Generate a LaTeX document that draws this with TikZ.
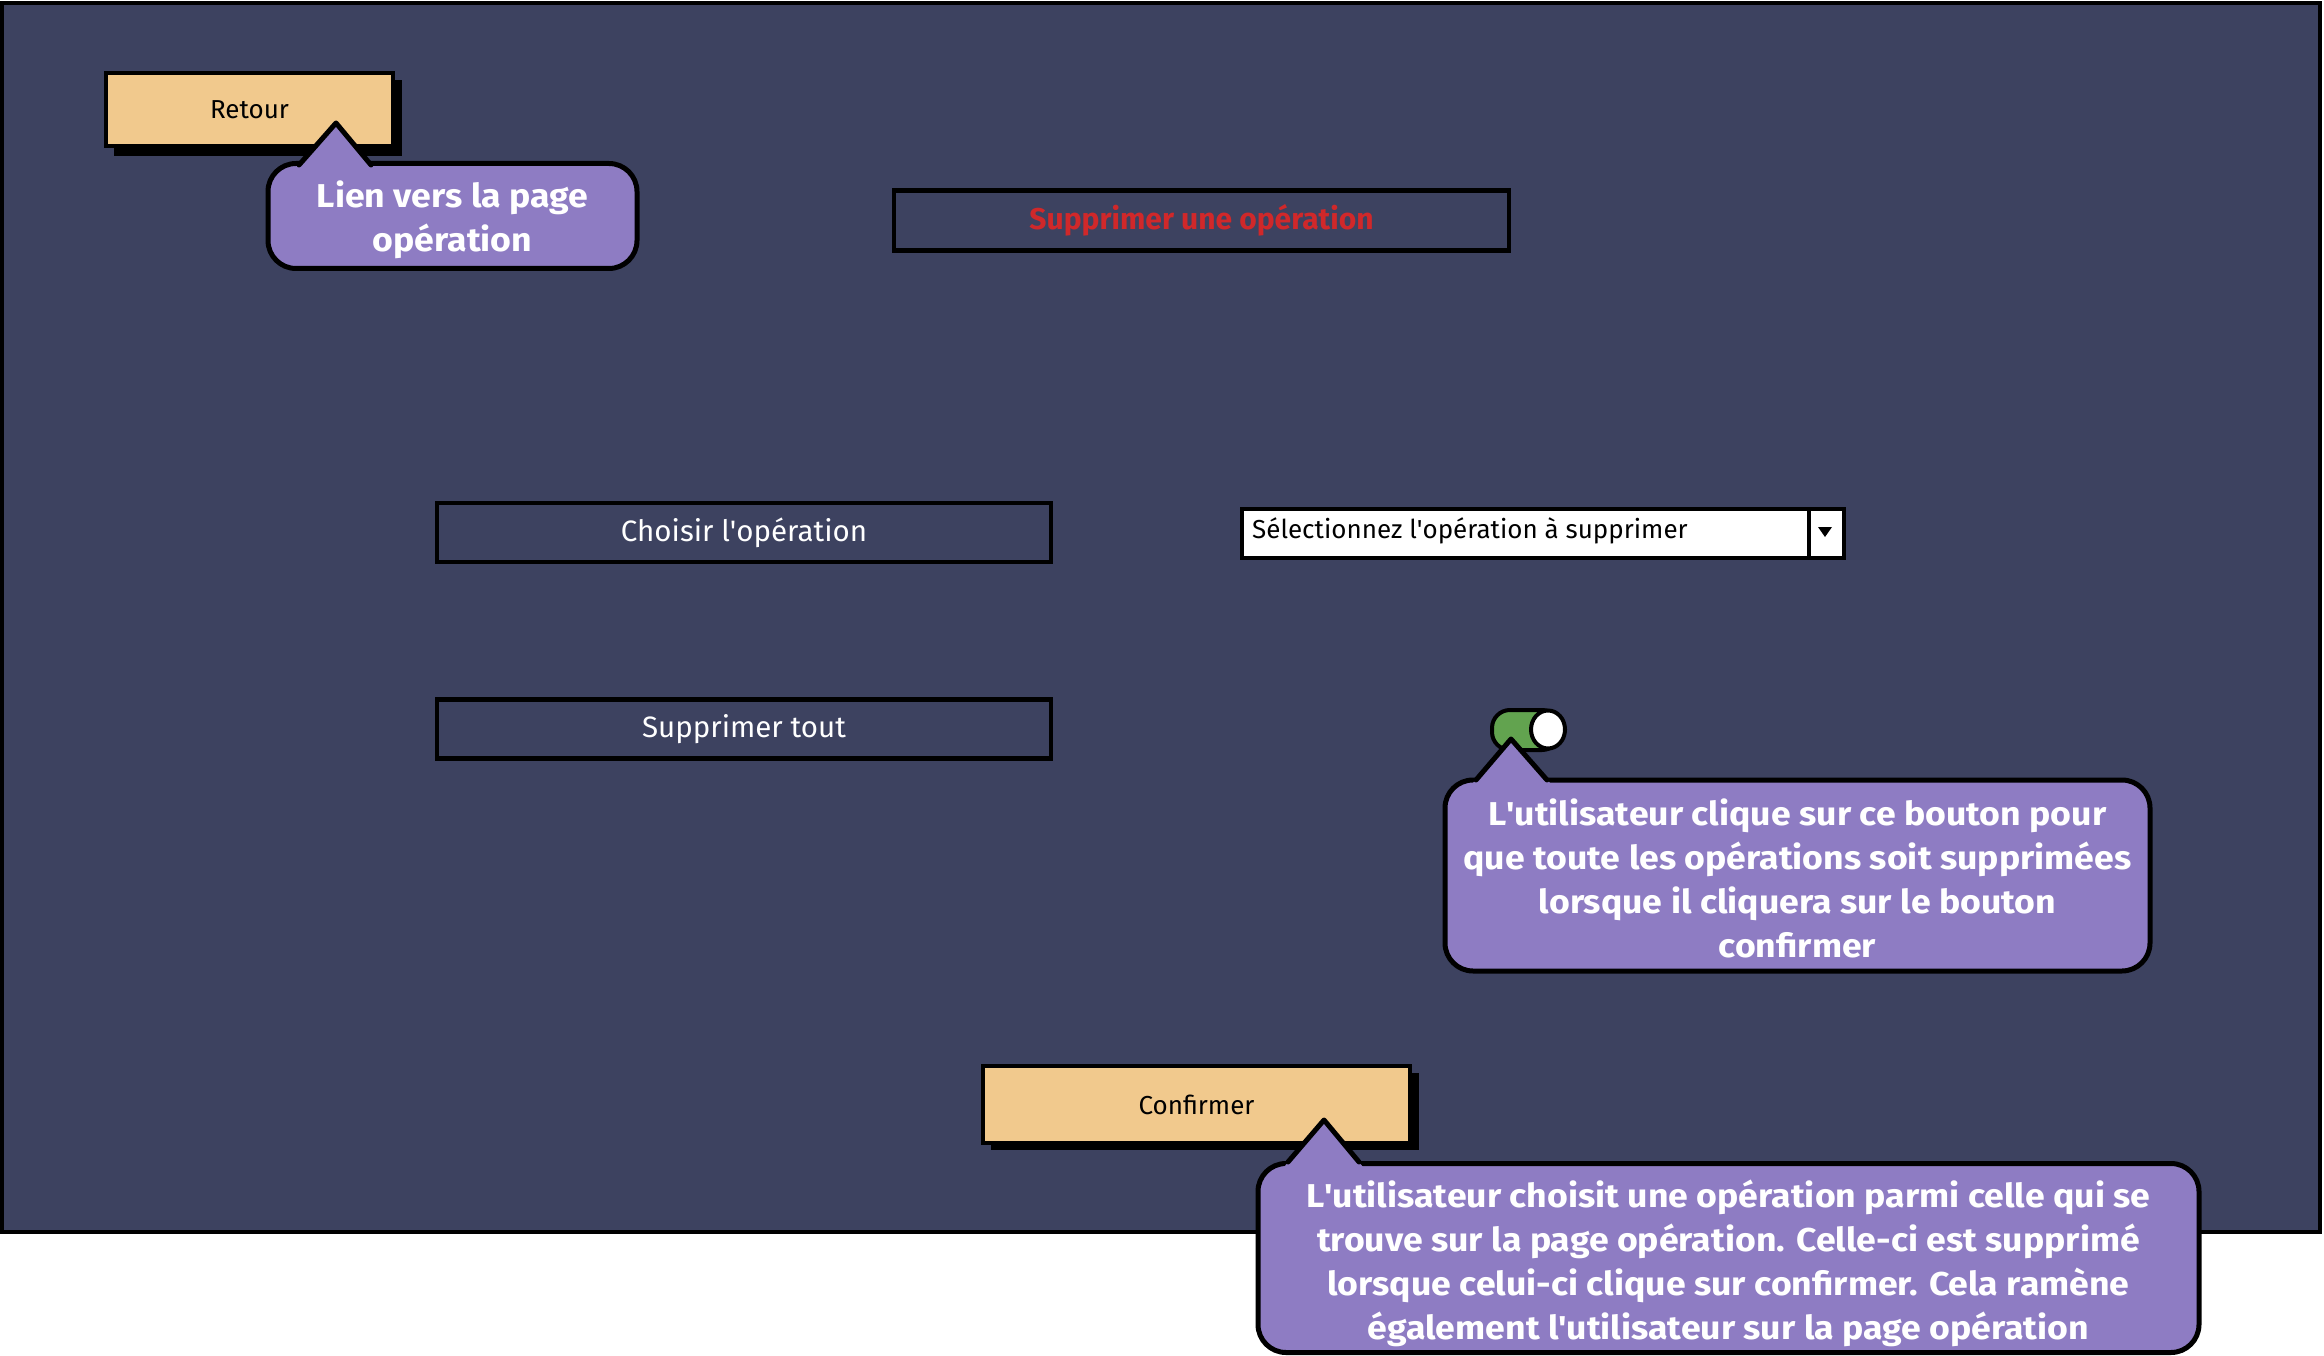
\documentclass[tikz,border=0pt]{standalone}
\usepackage{fontspec}
\setmainfont{Fira Sans}
\newfontfamily\callfont{Fira Sans}[FakeStretch=1.08]
\definecolor{bgc}{HTML}{3D4260}
\definecolor{callc}{HTML}{8E7CC3}
\definecolor{btnc}{HTML}{F1C98D}
\definecolor{tgreen}{HTML}{62A34F}
\definecolor{titlered}{HTML}{D0282A}
\newcommand{\apos}{\textquotesingle}
\tikzset{
  btnbox/.style={draw=black, fill=btnc, line width=4pt, inner sep=0pt, text=black, font=\fontsize{26}{30}\selectfont},
  outbox/.style={draw=black, line width=4.5pt, inner sep=0pt, text=white, font=\fontsize{29.5}{34}\selectfont},
  callbox/.style={draw=black, fill=callc, line width=5pt, rounded corners=28pt, inner sep=0pt},
  calltext/.style={inner sep=0pt, text=white, align=center, font=\callfont\fontsize{33}{44}\selectfont\bfseries},
  callptr/.style={fill=callc},
  callside/.style={draw=black, line width=5pt, line join=round, line cap=round},
  shadowc/.style={fill=black}
}
\begin{document}
\begin{tikzpicture}[x=1pt,y=-1pt]
\useasboundingbox (0,0) rectangle (2324,1356);
\fill[white] (0,0) rectangle (2324,1356);
% background frame
\draw[fill=bgc, line width=4pt] (2,3) rectangle (2320,1232);

% Retour button
\fill[shadowc] (114,80) rectangle (402,156);
\node[btnbox, minimum width=287pt, minimum height=73pt] (retour) at (249.5,110) {Retour};

% title
\node[outbox, minimum width=615pt, minimum height=60pt, text=titlered, font=\fontsize{30}{34}\selectfont\bfseries] (title) at (1201.5,220.5) {Supprimer une opération};

% Choisir / Supprimer tout
\node[outbox, minimum width=614pt, minimum height=59pt] (choisir) at (744,532.5) {Choisir l\apos opération};
\node[outbox, minimum width=614pt, minimum height=59pt] (supptout) at (744,729) {Supprimer tout};

% dropdown
\node[draw=black, fill=white, line width=4pt, minimum width=602pt, minimum height=49pt, inner sep=0pt] (drop) at (1543,533.5) {};
\node[anchor=west, inner sep=0pt, text=black, font=\fontsize{26}{30}\selectfont] (droptext) at (1252,531) {Sélectionnez l\apos opération à supprimer};
\coordinate (divtop) at (1809,509);
\coordinate (divbot) at (1809,558);
\draw[line width=4pt] (divtop) -- (divbot);
\fill[black] (1818,527) -- (1832,527) -- (1825,537) -- cycle;

% toggle
\draw[fill=tgreen, line width=4pt, rounded corners=18pt] (1492,710) rectangle (1560,750);
\draw[fill=white, line width=4pt] (1548,729.5) ellipse (17pt and 19pt);

% Confirmer button
\fill[shadowc] (991,1073) rectangle (1419,1150);
\node[btnbox, minimum width=427pt, minimum height=77pt] (confirmer) at (1196.5,1104.5) {Confirmer};

% callout 1
\node[callbox, minimum width=369pt, minimum height=105pt] (c1) at (452.5,216) {};
\node[calltext] (c1t) at ([yshift=-4pt]c1.center) {Lien vers la page\\opération};
\fill[callptr] (296,170) -- (336,123) -- (374,170) -- cycle;
\draw[callside] (299,165) -- (336,123) -- (371,165);

% callout 2
\node[callbox, minimum width=705pt, minimum height=191pt] (c2) at (1797.5,875.5) {};
\node[calltext] (c2t) at ([yshift=-3pt]c2.center) {L\apos utilisateur clique sur ce bouton pour\\que toute les opérations soit supprimées\\lorsque il cliquera sur le bouton\\confirmer};
\fill[callptr] (1472,784) -- (1511,739) -- (1551,784) -- cycle;
\draw[callside] (1476,780) -- (1511,739) -- (1547,780);

% callout 3
\node[callbox, minimum width=941pt, minimum height=189pt] (c3) at (1728.5,1258) {};
\node[calltext] (c3t) at ([yshift=-5pt]c3.center) {L\apos utilisateur choisit une opération parmi celle qui se\\trouve sur la page opération. Celle-ci est supprimé\\lorsque celui-ci clique sur confirmer. Cela ramène\\également l\apos utilisateur sur la page opération};
\fill[callptr] (1284,1167) -- (1324,1120) -- (1363,1167) -- cycle;
\draw[callside] (1288,1162) -- (1324,1120) -- (1359,1162);
\end{tikzpicture}
\end{document}
